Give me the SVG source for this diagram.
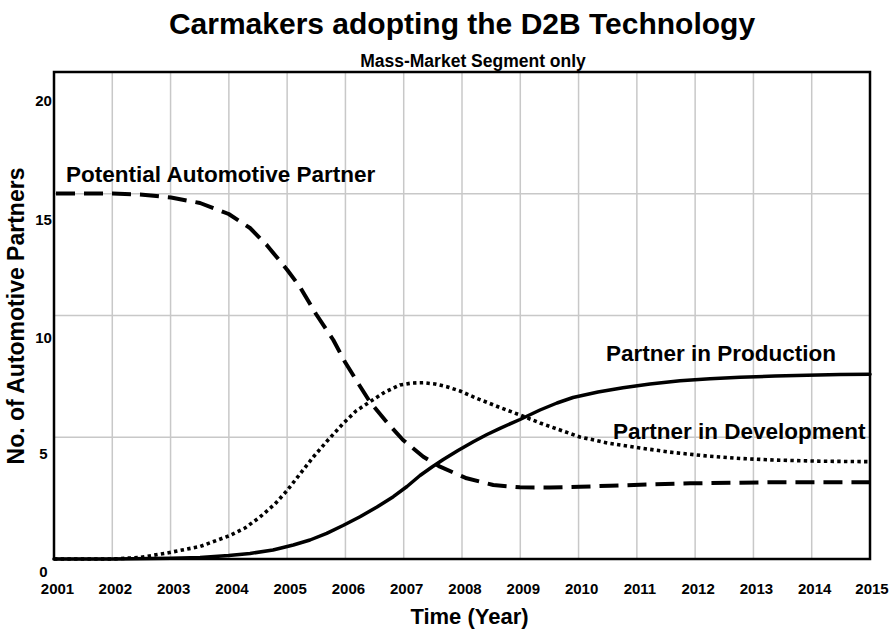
<svg xmlns="http://www.w3.org/2000/svg" width="891" height="630" viewBox="0 0 891 630">
<style>
text { font-family: "Liberation Sans", Arial, sans-serif; font-weight: bold; fill: #000; }
.grid line { stroke: #c8c8c8; stroke-width: 1.5; }
.frame { fill: none; stroke: #000; stroke-width: 2.5; }
.curve { fill: none; stroke: #000; stroke-linejoin: round; }
.solid { stroke-width: 3.5; stroke-linecap: round; }
.dashed { stroke-width: 4; stroke-dasharray: 19 9; }
.dotted { stroke-width: 3.6; stroke-dasharray: 3.4 3.3; }
.ytick { font-size: 15px; text-anchor: middle; }
.xtick { font-size: 15px; text-anchor: middle; }
.lbl { font-size: 22.5px; }
</style>
<rect width="891" height="630" fill="#fff"/>
<text id="title" x="462" y="34" font-size="30" text-anchor="middle">Carmakers adopting the D2B Technology</text>
<text id="subtitle" x="473" y="67" font-size="17.5" text-anchor="middle">Mass-Market Segment only</text>
<g id="grid" class="grid">
<line x1="112.29" y1="72" x2="112.29" y2="559"/>
<line x1="170.57" y1="72" x2="170.57" y2="559"/>
<line x1="228.86" y1="72" x2="228.86" y2="559"/>
<line x1="287.14" y1="72" x2="287.14" y2="559"/>
<line x1="345.43" y1="72" x2="345.43" y2="559"/>
<line x1="403.71" y1="72" x2="403.71" y2="559"/>
<line x1="462" y1="72" x2="462" y2="559"/>
<line x1="520.29" y1="72" x2="520.29" y2="559"/>
<line x1="578.57" y1="72" x2="578.57" y2="559"/>
<line x1="636.86" y1="72" x2="636.86" y2="559"/>
<line x1="695.14" y1="72" x2="695.14" y2="559"/>
<line x1="753.43" y1="72" x2="753.43" y2="559"/>
<line x1="811.71" y1="72" x2="811.71" y2="559"/>
<line x1="54" y1="193.75" x2="870" y2="193.75"/>
<line x1="54" y1="315.5" x2="870" y2="315.5"/>
<line x1="54" y1="437.25" x2="870" y2="437.25"/>
</g>
<rect id="frame" class="frame" x="54" y="72" width="816" height="487"/>
<g id="y-ticks">
<text class="ytick" x="43.5" y="106">20</text>
<text class="ytick" x="43.5" y="225">15</text>
<text class="ytick" x="43.5" y="343">10</text>
<text class="ytick" x="43.5" y="459">5</text>
<text class="ytick" x="43.5" y="577">0</text>
</g>
<g id="x-ticks">
<text class="xtick" x="57.5" y="594">2001</text>
<text class="xtick" x="115.3" y="594">2002</text>
<text class="xtick" x="173.6" y="594">2003</text>
<text class="xtick" x="231.9" y="594">2004</text>
<text class="xtick" x="290.1" y="594">2005</text>
<text class="xtick" x="348.4" y="594">2006</text>
<text class="xtick" x="406.7" y="594">2007</text>
<text class="xtick" x="465" y="594">2008</text>
<text class="xtick" x="523.3" y="594">2009</text>
<text class="xtick" x="581.6" y="594">2010</text>
<text class="xtick" x="639.9" y="594">2011</text>
<text class="xtick" x="698.1" y="594">2012</text>
<text class="xtick" x="756.4" y="594">2013</text>
<text class="xtick" x="814.7" y="594">2014</text>
<text class="xtick" x="872" y="594">2015</text>
</g>
<text id="x-axis-title" x="469.5" y="624" font-size="22" text-anchor="middle">Time (Year)</text>
<text id="y-axis-title" transform="translate(24,316) rotate(-90)" font-size="23" text-anchor="middle">No. of Automotive Partners</text>
<g id="curves">
<path id="potential" class="curve dashed" d="M56,193.5 L80,193.5 L112.7,193.6 L140,194.5 L171,197.5 L200,203 L228.7,214 L250,228 L266.7,245 L287.3,270 L300,287 L316,314 L333.3,340 L345,362 L358,383 L370,402 L386.7,422 L403,440 L423.3,456.7 L440,466.7 L466.7,478.3 L493.3,485 L520,487.3 L550,487.5 L580,486.7 L610,485.8 L640,484.7 L690,483.3 L773,482.3 L870,482.3"/>
<path id="development" class="curve dotted" d="M54,559 L112,559 L140,557.5 L167,553 L200,546.5 L228.7,536 L245,528 L260,517 L275,504 L286.7,491 L300,474 L313.3,457 L328,440 L343.3,423.3 L356,411 L370,401.7 L385,392 L400,385 L412,383 L423.3,382.7 L435,384 L446.7,386.7 L460,391 L476.7,398.3 L500,407.5 L520,415 L540,423 L560,430 L580,437 L610,443.5 L640,448 L673,452.5 L707,456 L740,458.5 L773,460 L820,461.2 L870,461.7"/>
<path id="production" class="curve solid" d="M54,559 L112,559 L171,558.3 L200,557.5 L228.7,555.5 L250,553.5 L273,550 L293.3,545 L310,540 L326.7,533.3 L343,525.5 L360,516.7 L377,507 L393.3,496.7 L407,486.5 L420,475.5 L432,467 L443.3,459.5 L458,450.5 L473.3,441.7 L487,434.5 L500,428.3 L520,419.5 L540,410 L557,403 L573,397.5 L598,392 L623,387.8 L650,384 L680,380.8 L710,378.8 L740,377.2 L775,376 L807,375.2 L840,374.6 L870,374.3"/>
</g>
<g id="labels">
<text class="lbl" x="66" y="182">Potential Automotive Partner</text>
<text class="lbl" x="606" y="361">Partner in Production</text>
<text class="lbl" x="613" y="439">Partner in Development</text>
</g>
</svg>
